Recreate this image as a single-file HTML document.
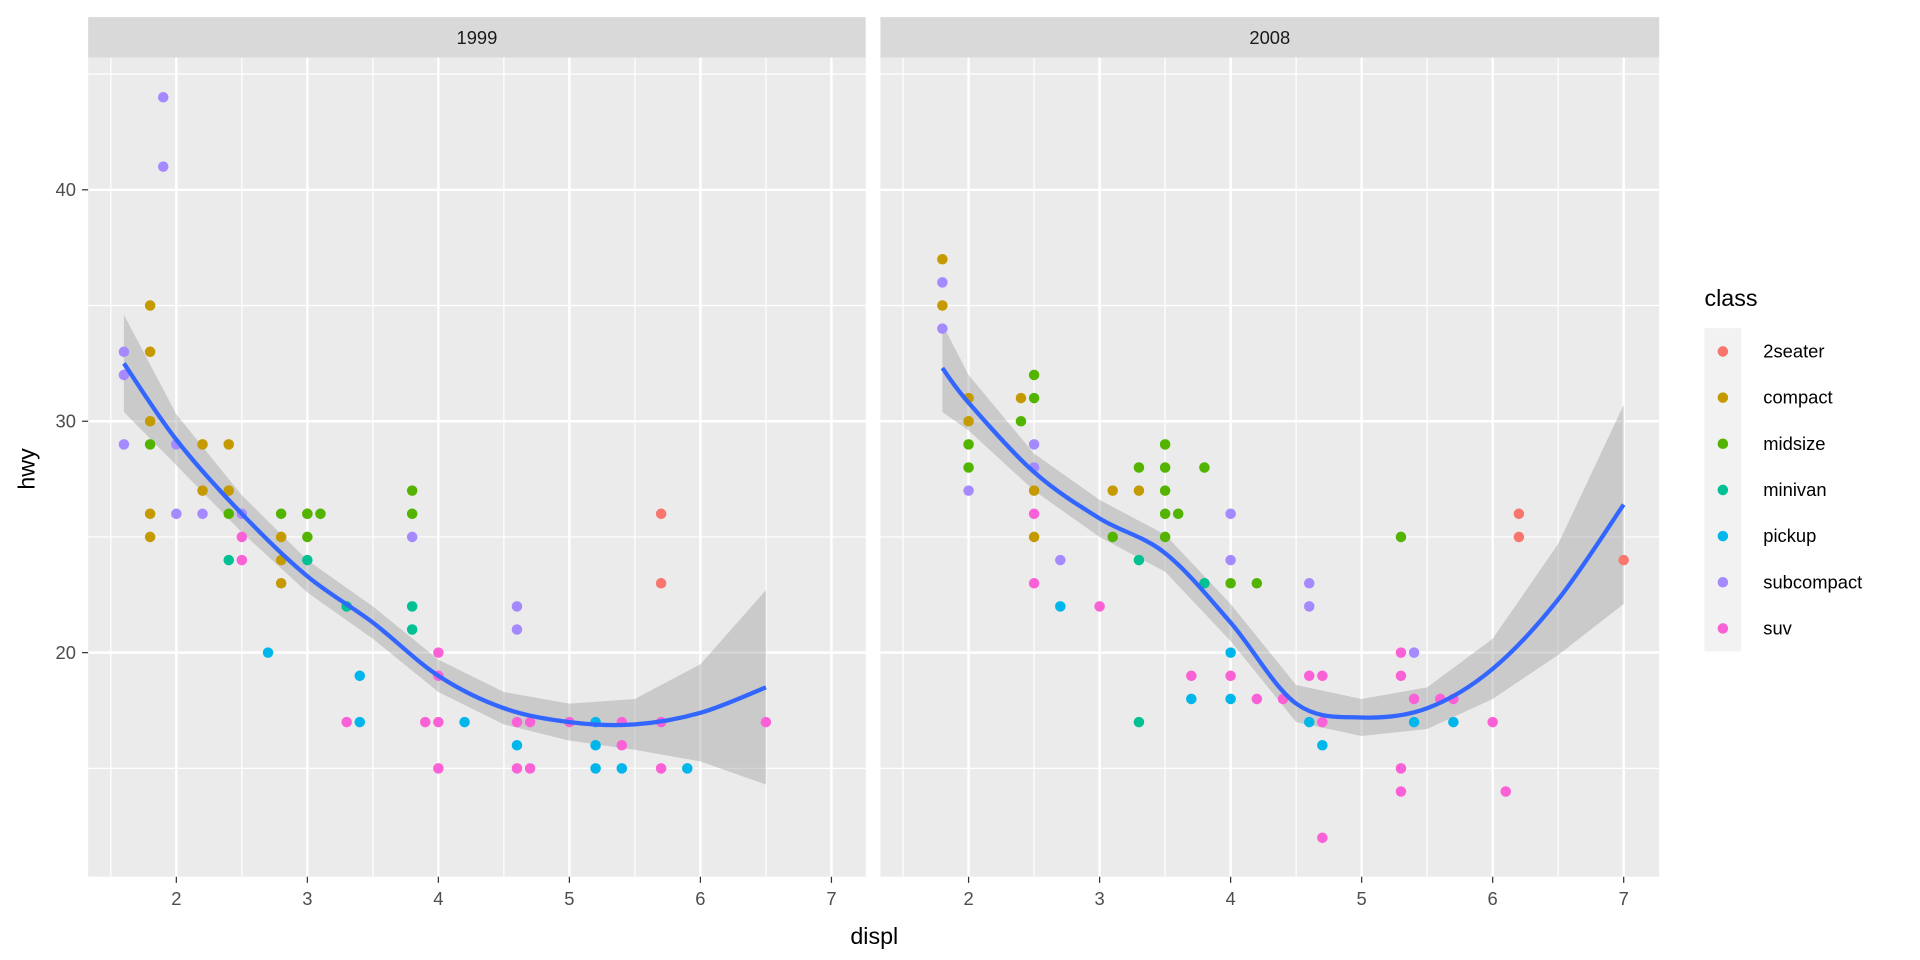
<!DOCTYPE html>
<html><head><meta charset="utf-8"><style>
body{margin:0;background:#fff;}
svg{display:block;font-family:"Liberation Sans",sans-serif;}
</style></head><body>
<svg width="1920" height="960" xmlns="http://www.w3.org/2000/svg">
<rect width="1920" height="960" fill="#fff"/>
<g id="g" transform="scale(1.2245)"></g>
</svg>
<script>
(function(){
const G=document.getElementById('g');let h='';
const C={t:'#F8766D',c:'#C49A00',m:'#53B400',n:'#00C094',p:'#00B6EB',u:'#A58AFF',s:'#FB61D7'};
const pT=47,pB=716;
const Y=v=>533-(v-20)*18.9;
const panels=[{x0:72,x1:707,off:0,lab:'1999'},{x0:719,x1:1355,off:647,lab:'2008'}];
const P1={u:[[1.6,33],[1.6,32],[1.6,29],[1.9,44],[1.9,41],[2,29],[2,26],[2.2,26],[2.5,26],[3.8,25],[4.6,22],[4.6,21]],
c:[[1.8,35],[1.8,33],[1.8,30],[1.8,26],[1.8,25],[2.2,29],[2.2,27],[2.4,29],[2.4,27],[2.8,25],[2.8,24],[2.8,23],[3,26]],
m:[[1.8,29],[2.4,26],[2.8,26],[3,26],[3,25],[3.1,26],[3.8,27],[3.8,26]],
n:[[2.4,24],[3,24],[3.3,22],[3.8,22],[3.8,21]],
p:[[2.7,20],[3.4,19],[3.4,17],[4.2,17],[4.6,16],[5.2,16],[5.2,15],[5.4,15],[5.9,15],[5.2,17]],
s:[[2.5,25],[2.5,24],[3.3,17],[3.9,17],[4,20],[4,19],[4,17],[4,15],[4.6,17],[4.6,15],[4.7,17],[4.7,15],[5,17],[5.4,17],[5.4,16],[5.7,17],[5.7,15],[6.5,17]],
t:[[5.7,26],[5.7,23]]};
const P2={c:[[1.8,37],[1.8,35],[2,31],[2,30],[2.4,31],[2.5,27],[2.5,25],[3.1,27],[3.3,27]],
u:[[1.8,36],[1.8,34],[2,27],[2.5,29],[2.5,28],[2.7,24],[4,26],[4,24],[4.6,23],[4.6,22],[5.4,20]],
m:[[2,29],[2,28],[2.4,30],[2.5,32],[2.5,31],[3.3,28],[3.5,29],[3.5,28],[3.5,27],[3.5,26],[3.6,26],[3.8,28],[3.5,25],[4.2,23],[4,23],[5.3,25],[3.1,25]],
n:[[3.3,24],[3.3,17],[3.8,23]],
p:[[2.7,22],[3.7,18],[4,20],[4,18],[4.7,16],[4.6,17],[5.4,17],[5.7,17]],
s:[[2.5,26],[2.5,23],[3,22],[3.7,19],[4,19],[4.2,18],[4.4,18],[4.6,19],[4.7,19],[4.7,17],[4.7,12],[5.3,20],[5.3,19],[5.3,15],[5.3,14],[5.4,18],[5.6,18],[5.7,18],[6,17],[6.1,14]],
t:[[6.2,26],[6.2,25],[7,24]]};
const S1=[[1.6,32.5,2.1],[2,29.2,1.1],[2.5,26,0.8],[3,23.3,0.7],[3.5,21.3,0.7],[4,19,0.7],[4.5,17.6,0.7],[5,17,0.8],[5.5,16.9,1.1],[6,17.4,2.1],[6.5,18.5,4.2]];
const S2=[[1.8,32.3,1.9],[2,30.8,1.2],[2.5,27.8,0.8],[3,25.8,0.8],[3.5,24.3,0.8],[4,21.3,0.8],[4.5,17.8,0.8],[5,17.2,0.8],[5.5,17.6,0.9],[6,19.3,1.3],[6.5,22.3,2.4],[7,26.4,4.3]];
[P1,P2].forEach((D,i)=>{const p=panels[i];const X=v=>144+(v-2)*107+p.off;
h+=`<rect x="${p.x0}" y="14" width="${p.x1-p.x0}" height="33" fill="#D9D9D9"/><text x="${(p.x0+p.x1)/2}" y="36" font-size="15" fill="#1A1A1A" text-anchor="middle">${p.lab}</text>`;
h+=`<rect x="${p.x0}" y="${pT}" width="${p.x1-p.x0}" height="${pB-pT}" fill="#EBEBEB"/>`;
for(let v=15;v<=45;v+=10)h+=`<line x1="${p.x0}" x2="${p.x1}" y1="${Y(v)}" y2="${Y(v)}" stroke="#fff" stroke-width="1"/>`;
for(let v=1.5;v<=7.5;v+=1)h+=`<line y1="${pT}" y2="${pB}" x1="${X(v)}" x2="${X(v)}" stroke="#fff" stroke-width="1"/>`;
for(let v=20;v<=40;v+=10)h+=`<line x1="${p.x0}" x2="${p.x1}" y1="${Y(v)}" y2="${Y(v)}" stroke="#fff" stroke-width="2"/>`;
for(let v=2;v<=7;v++){h+=`<line y1="${pT}" y2="${pB}" x1="${X(v)}" x2="${X(v)}" stroke="#fff" stroke-width="2"/><line y1="${pB}" y2="${pB+5}" x1="${X(v)}" x2="${X(v)}" stroke="#333" stroke-width="1"/><text x="${X(v)}" y="${pB+23}" font-size="15" fill="#4D4D4D" text-anchor="middle">${v}</text>`;}
const S=i?S2:S1;
let up=S.map(q=>`${X(q[0])},${Y(q[1]+q[2])}`),lo=S.slice().reverse().map(q=>`${X(q[0])},${Y(q[1]-q[2])}`);
h+=`<polygon points="${up.concat(lo).join(' ')}" fill="#999" fill-opacity="0.4"/>`;
for(const k in D)for(const q of D[k])h+=`<circle cx="${X(q[0])}" cy="${Y(q[1])}" r="4.3" fill="${C[k]}"/>`;
let pts=S.map(q=>[X(q[0]),Y(q[1])]);let d=`M${pts[0][0]},${pts[0][1]}`;
for(let j=0;j<pts.length-1;j++){const a=pts[j-1]||pts[j],b=pts[j],c=pts[j+1],e=pts[j+2]||c;
d+=` C${b[0]+(c[0]-a[0])/6},${b[1]+(c[1]-a[1])/6} ${c[0]-(e[0]-b[0])/6},${c[1]-(e[1]-b[1])/6} ${c[0]},${c[1]}`;}
h+=`<path d="${d}" fill="none" stroke="#3366FF" stroke-width="3.5"/>`;
});
for(const v of [20,30,40])h+=`<line x1="67" x2="72" y1="${Y(v)}" y2="${Y(v)}" stroke="#333"/><text x="62" y="${Y(v)+5}" font-size="15" fill="#4D4D4D" text-anchor="end">${v}</text>`;
h+=`<text x="714" y="771" font-size="19" text-anchor="middle" fill="#000">displ</text>`;
h+=`<text transform="translate(28,383) rotate(-90)" font-size="19" text-anchor="middle" fill="#000">hwy</text>`;
h+=`<text x="1392" y="250" font-size="19" fill="#000">class</text>`;
const L=[['t','2seater'],['c','compact'],['m','midsize'],['n','minivan'],['p','pickup'],['u','subcompact'],['s','suv']];
h+=`<rect x="1392" y="268" width="30" height="264" fill="#F2F2F2"/>`;
L.forEach((l,i)=>{const y=287+i*37.7;h+=`<circle cx="1407" cy="${y}" r="4.3" fill="${C[l[0]]}"/><text x="1440" y="${y+5}" font-size="15" fill="#000">${l[1]}</text>`;});
G.innerHTML=h;
})();
</script>
</body></html>
